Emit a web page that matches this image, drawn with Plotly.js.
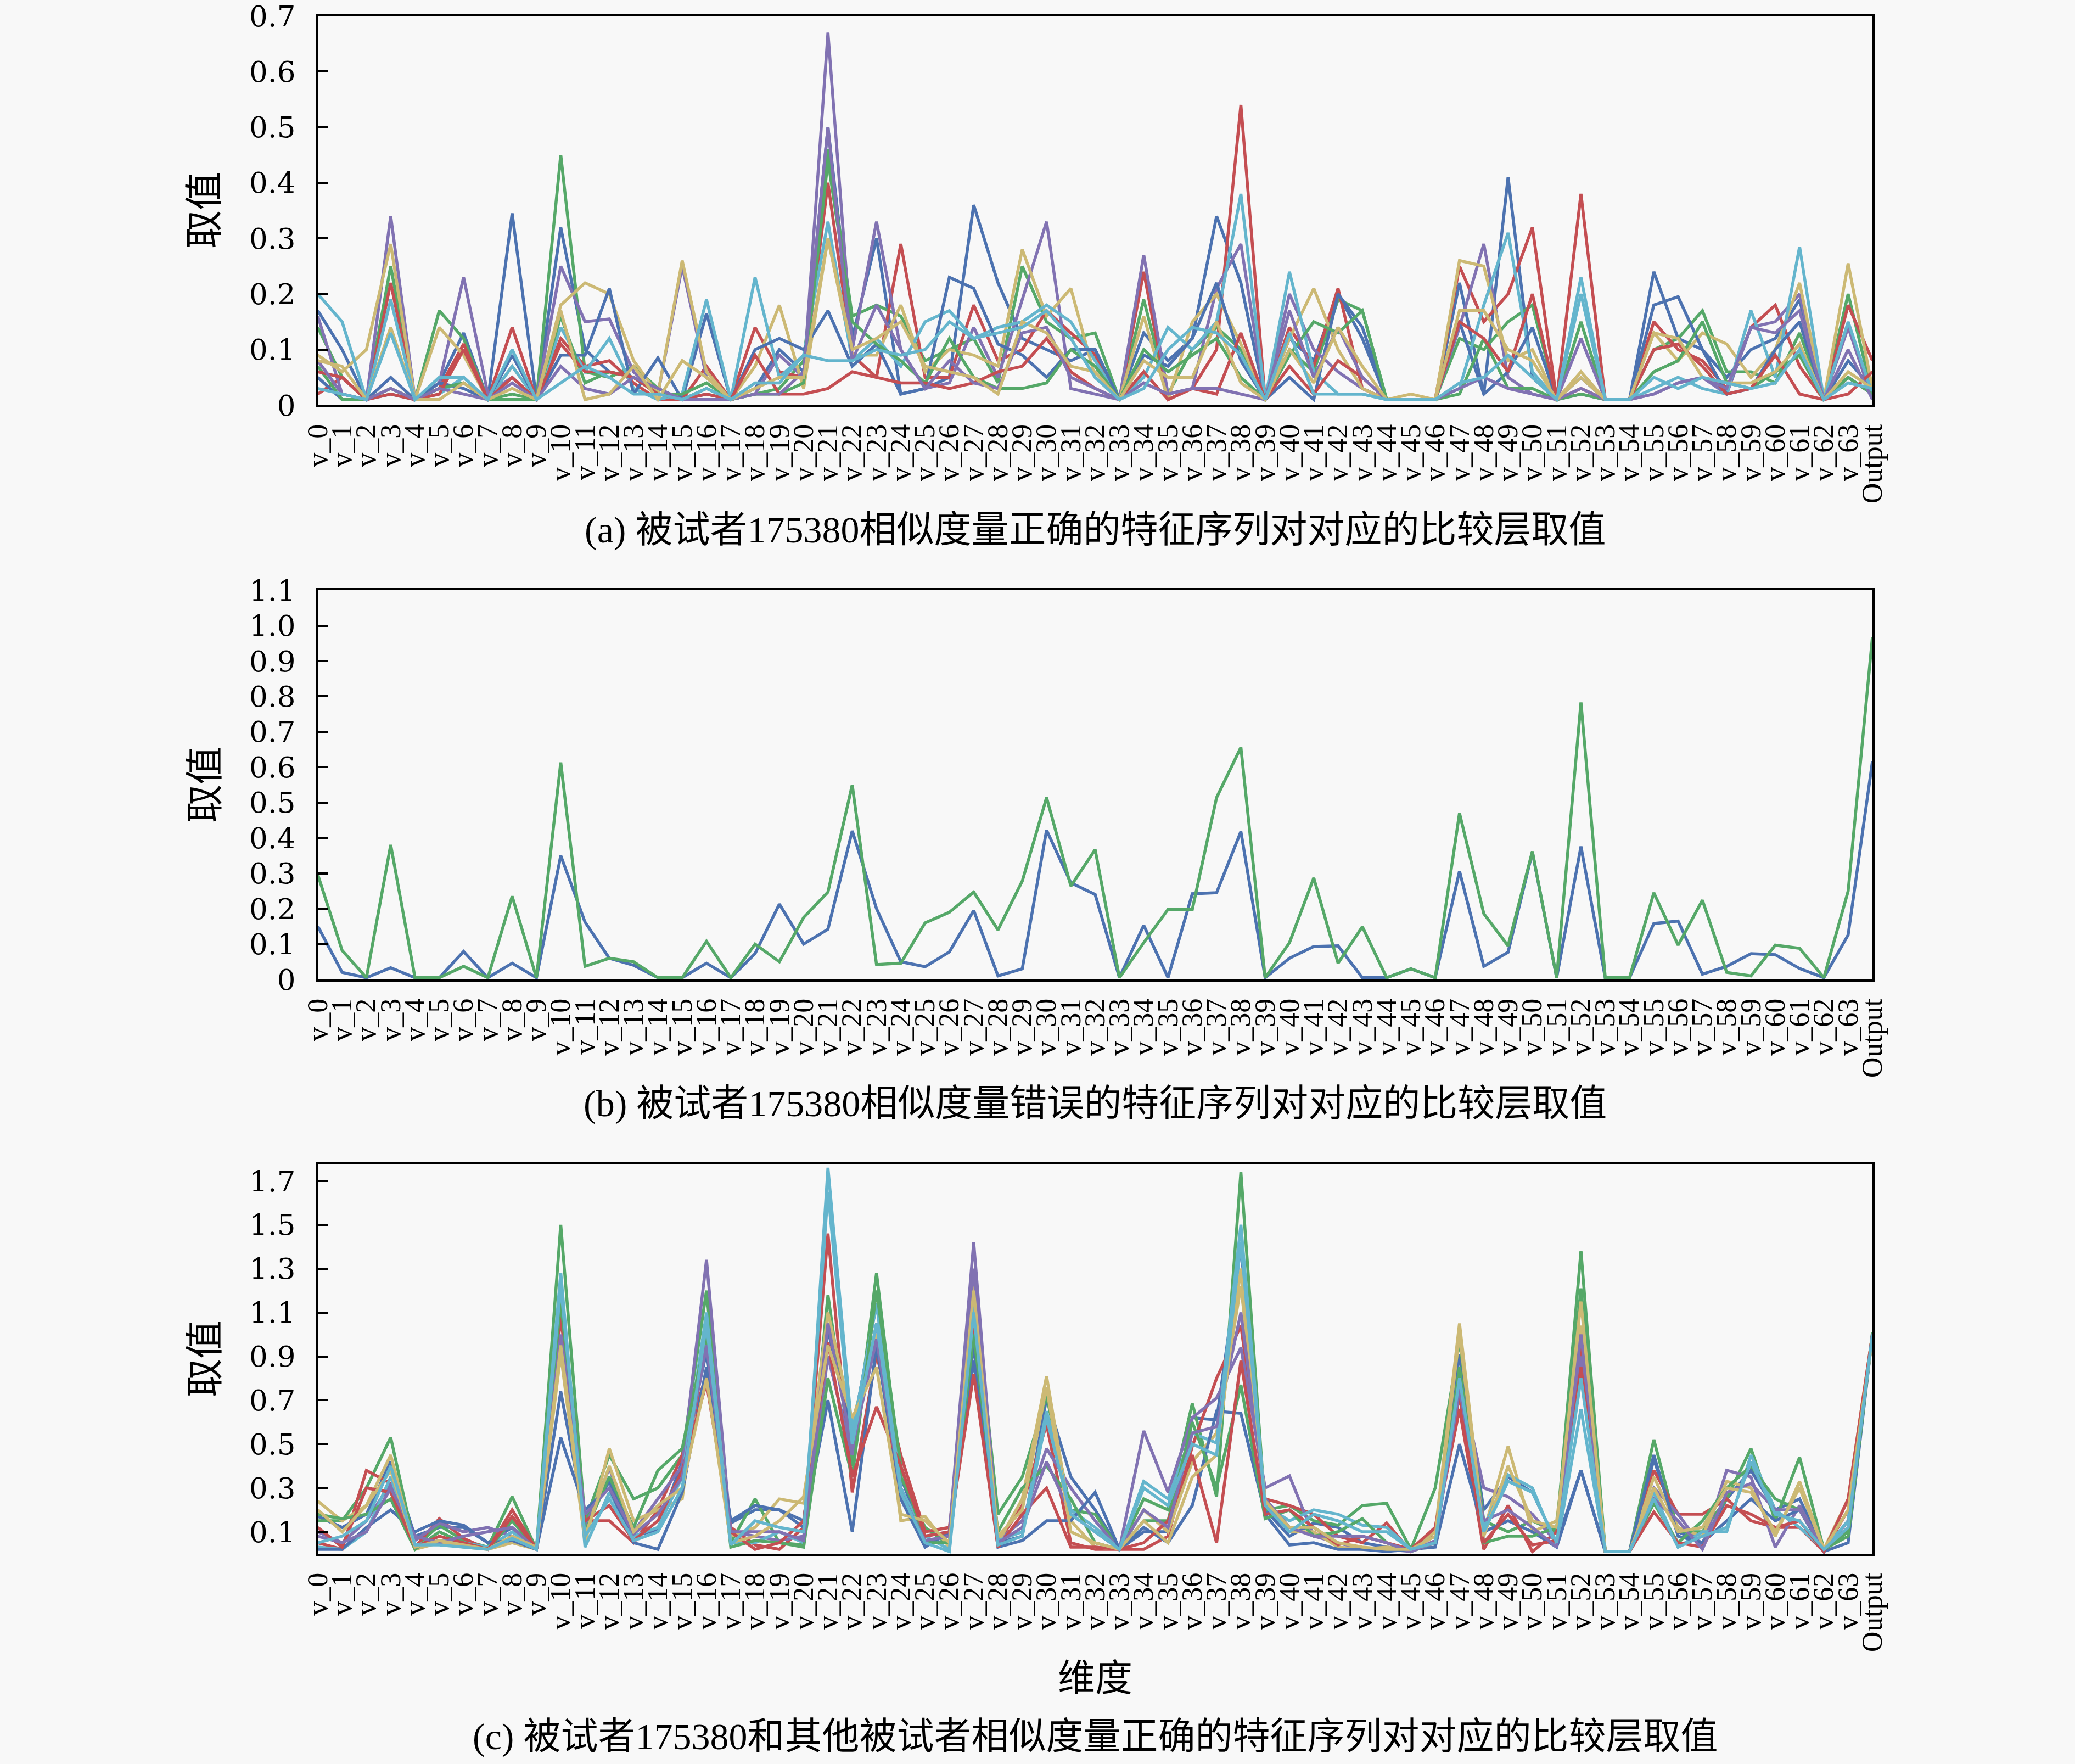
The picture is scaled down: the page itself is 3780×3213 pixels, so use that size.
<!DOCTYPE html>
<html>
<head>
<meta charset="utf-8">
<script src="https://cdn.plot.ly/plotly-3.0.1.min.js"></script>
<style>html,body{margin:0;padding:0;background:#f8f8f8;}#chart{width:3780px;height:3213px;}</style>
</head>
<body>
<div id="chart"></div>
<script>
const categories = ["v_0","v_1","v_2","v_3","v_4","v_5","v_6","v_7","v_8","v_9",
"v_10","v_11","v_12","v_13","v_14","v_15","v_16","v_17","v_18","v_19",
"v_20","v_21","v_22","v_23","v_24","v_25","v_26","v_27","v_28","v_29",
"v_30","v_31","v_32","v_33","v_34","v_35","v_36","v_37","v_38","v_39",
"v_40","v_41","v_42","v_43","v_44","v_45","v_46","v_47","v_48","v_49",
"v_50","v_51","v_52","v_53","v_54","v_55","v_56","v_57","v_58","v_59",
"v_60","v_61","v_62","v_63","Output"];

const palette = ["#4C72B0","#55A868","#C44E52","#8172B2","#CCB974","#64B5CD"];

// Panel (a): correct feature-sequence pairs
const a1 = [0.17,0.10,0.01,0.05,0.01,0.04,0.13,0.01,0.345,0.01, 0.32,0.10,0.06,0.05,0.03,0.01,0.165,0.01,0.03,0.10, 0.06,0.50,0.12,0.30,0.02,0.03,0.05,0.36,0.22,0.12, 0.10,0.08,0.10,0.01,0.13,0.08,0.12,0.34,0.22,0.01, 0.12,0.08,0.20,0.12,0.01,0.01,0.01,0.22,0.02,0.41, 0.05,0.01,0.05,0.01,0.01,0.24,0.12,0.10,0.05,0.10, 0.12,0.19,0.01,0.08,0.03];
const a2 = [0.14,0.05,0.01,0.25,0.01,0.17,0.12,0.01,0.02,0.01, 0.45,0.06,0.05,0.07,0.03,0.01,0.03,0.01,0.02,0.03, 0.08,0.46,0.16,0.18,0.16,0.08,0.10,0.12,0.04,0.25, 0.15,0.12,0.13,0.01,0.19,0.02,0.10,0.14,0.10,0.01, 0.10,0.06,0.19,0.17,0.01,0.01,0.01,0.12,0.10,0.15, 0.18,0.01,0.15,0.01,0.01,0.10,0.12,0.17,0.06,0.06, 0.04,0.13,0.01,0.20,0.02];
const a3 = [0.02,0.05,0.01,0.22,0.01,0.03,0.11,0.01,0.14,0.01, 0.12,0.07,0.08,0.04,0.01,0.01,0.07,0.01,0.14,0.06, 0.05,0.40,0.09,0.05,0.29,0.05,0.05,0.18,0.08,0.10, 0.17,0.13,0.09,0.01,0.24,0.01,0.03,0.10,0.54,0.01, 0.14,0.07,0.21,0.03,0.01,0.01,0.01,0.25,0.15,0.20, 0.32,0.01,0.38,0.01,0.01,0.15,0.10,0.08,0.03,0.14, 0.18,0.07,0.01,0.18,0.08];
const a4 = [0.16,0.02,0.01,0.34,0.01,0.04,0.23,0.02,0.05,0.01, 0.25,0.15,0.155,0.06,0.02,0.25,0.05,0.01,0.02,0.09, 0.05,0.67,0.10,0.33,0.10,0.03,0.04,0.14,0.05,0.19, 0.33,0.03,0.02,0.01,0.27,0.02,0.03,0.21,0.29,0.01, 0.20,0.10,0.06,0.03,0.01,0.01,0.01,0.14,0.29,0.05, 0.02,0.01,0.12,0.01,0.01,0.02,0.04,0.05,0.02,0.14, 0.15,0.20,0.01,0.14,0.01];
const a5 = [0.09,0.06,0.10,0.29,0.01,0.14,0.09,0.01,0.07,0.01, 0.18,0.22,0.20,0.08,0.02,0.26,0.06,0.01,0.07,0.18, 0.03,0.30,0.09,0.09,0.18,0.06,0.10,0.09,0.07,0.28, 0.16,0.21,0.05,0.01,0.16,0.01,0.15,0.20,0.11,0.01, 0.12,0.21,0.10,0.03,0.01,0.02,0.01,0.26,0.25,0.08, 0.10,0.01,0.06,0.01,0.01,0.13,0.08,0.13,0.11,0.05, 0.10,0.22,0.01,0.255,0.03];
const a6 = [0.20,0.15,0.01,0.19,0.01,0.02,0.05,0.01,0.07,0.01, 0.14,0.06,0.12,0.03,0.01,0.02,0.19,0.01,0.23,0.05, 0.09,0.33,0.08,0.12,0.07,0.15,0.17,0.12,0.14,0.15, 0.18,0.15,0.08,0.01,0.05,0.14,0.10,0.15,0.38,0.01, 0.24,0.06,0.02,0.02,0.01,0.01,0.01,0.03,0.18,0.31, 0.06,0.01,0.23,0.01,0.01,0.03,0.05,0.03,0.02,0.17, 0.05,0.285,0.01,0.15,0.02];
const a7 = [0.05,0.01,0.01,0.02,0.01,0.04,0.03,0.01,0.09,0.01, 0.09,0.09,0.21,0.02,0.085,0.01,0.02,0.01,0.10,0.12, 0.10,0.17,0.07,0.11,0.02,0.03,0.23,0.21,0.11,0.09, 0.05,0.10,0.10,0.01,0.09,0.07,0.12,0.22,0.08,0.01, 0.05,0.01,0.20,0.14,0.01,0.01,0.01,0.15,0.02,0.06, 0.14,0.01,0.02,0.01,0.01,0.18,0.195,0.10,0.02,0.03, 0.10,0.15,0.01,0.05,0.02];
const a8 = [0.07,0.01,0.01,0.03,0.01,0.03,0.04,0.01,0.01,0.01, 0.16,0.04,0.06,0.05,0.02,0.02,0.04,0.01,0.02,0.02, 0.04,0.44,0.15,0.11,0.08,0.04,0.12,0.05,0.03,0.03, 0.04,0.10,0.07,0.01,0.10,0.06,0.09,0.12,0.05,0.01, 0.09,0.15,0.13,0.17,0.01,0.01,0.01,0.02,0.12,0.03, 0.03,0.01,0.02,0.01,0.01,0.06,0.08,0.15,0.04,0.03, 0.06,0.09,0.01,0.05,0.02];
const a9 = [0.06,0.05,0.01,0.02,0.01,0.02,0.10,0.01,0.05,0.01, 0.11,0.06,0.06,0.05,0.02,0.01,0.02,0.01,0.09,0.02, 0.02,0.03,0.06,0.05,0.04,0.04,0.03,0.04,0.06,0.07, 0.12,0.06,0.03,0.01,0.06,0.01,0.03,0.02,0.13,0.01, 0.07,0.02,0.08,0.05,0.01,0.01,0.01,0.15,0.12,0.06, 0.20,0.01,0.03,0.01,0.01,0.10,0.11,0.07,0.02,0.03, 0.09,0.02,0.01,0.02,0.06];
const a10 = [0.08,0.02,0.01,0.03,0.01,0.03,0.02,0.01,0.04,0.01, 0.07,0.03,0.02,0.05,0.03,0.01,0.01,0.01,0.02,0.02, 0.06,0.50,0.08,0.18,0.10,0.03,0.08,0.04,0.03,0.13, 0.14,0.05,0.03,0.01,0.04,0.02,0.03,0.03,0.02,0.01, 0.17,0.05,0.14,0.05,0.01,0.01,0.01,0.03,0.05,0.03, 0.02,0.01,0.03,0.01,0.01,0.02,0.04,0.05,0.03,0.14, 0.13,0.17,0.01,0.10,0.01];
const a11 = [0.08,0.07,0.01,0.14,0.01,0.01,0.04,0.01,0.03,0.01, 0.17,0.01,0.02,0.07,0.01,0.08,0.05,0.01,0.03,0.05, 0.05,0.30,0.10,0.12,0.15,0.07,0.06,0.05,0.02,0.15, 0.13,0.07,0.06,0.01,0.08,0.05,0.05,0.15,0.04,0.01, 0.10,0.04,0.14,0.07,0.01,0.01,0.01,0.17,0.17,0.10, 0.08,0.01,0.05,0.01,0.01,0.13,0.12,0.05,0.04,0.04, 0.06,0.11,0.01,0.06,0.03];
const a12 = [0.03,0.02,0.01,0.13,0.01,0.05,0.05,0.01,0.10,0.01, 0.04,0.07,0.05,0.02,0.02,0.01,0.03,0.01,0.04,0.04, 0.09,0.08,0.08,0.10,0.09,0.10,0.15,0.12,0.13,0.14, 0.17,0.12,0.05,0.01,0.03,0.10,0.14,0.13,0.09,0.01, 0.13,0.02,0.02,0.02,0.01,0.01,0.01,0.04,0.05,0.09, 0.05,0.01,0.20,0.01,0.01,0.05,0.03,0.05,0.04,0.03, 0.04,0.10,0.01,0.04,0.03];

// Panel (b): wrong feature-sequence pairs
const b1 = [0.15,0.02,0.005,0.033,0.005,0.005,0.079,0.005,0.046,0.005, 0.35,0.162,0.06,0.04,0.005,0.005,0.046,0.005,0.073,0.213, 0.10,0.142,0.42,0.20,0.05,0.036,0.078,0.195,0.01,0.03, 0.422,0.273,0.24,0.005,0.153,0.005,0.242,0.245,0.418,0.005, 0.06,0.093,0.095,0.005,0.005,0.03,0.005,0.306,0.037,0.077, 0.36,0.005,0.376,0.005,0.005,0.158,0.165,0.015,0.037,0.073, 0.07,0.031,0.005,0.126,0.616];
const b2 = [0.296,0.082,0.005,0.38,0.005,0.005,0.037,0.005,0.235,0.005, 0.613,0.037,0.06,0.05,0.005,0.005,0.108,0.005,0.10,0.05, 0.175,0.247,0.55,0.042,0.046,0.16,0.19,0.247,0.14,0.278, 0.514,0.264,0.367,0.005,0.104,0.198,0.198,0.514,0.656,0.005, 0.104,0.287,0.046,0.149,0.005,0.03,0.005,0.47,0.186,0.095, 0.362,0.005,0.783,0.005,0.005,0.245,0.097,0.224,0.02,0.01, 0.097,0.088,0.005,0.25,0.968];

// Panel (c): correct pairs between subject 175380 and others
const c1 = [0.17,0.12,0.18,0.42,0.08,0.12,0.12,0.05,0.12,0.02, 0.74,0.15,0.33,0.08,0.11,0.42,0.92,0.14,0.20,0.20, 0.15,1.02,0.55,1.14,0.35,0.06,0.05,0.95,0.05,0.08, 0.71,0.35,0.20,0.02,0.10,0.10,0.62,0.61,1.40,0.20, 0.08,0.14,0.12,0.05,0.03,0.02,0.10,0.91,0.20,0.35, 0.28,0.05,0.38,0.01,0.01,0.43,0.10,0.05,0.25,0.38, 0.20,0.25,0.02,0.10,1.00];
const c2 = [0.15,0.15,0.30,0.53,0.03,0.13,0.06,0.03,0.26,0.02, 1.50,0.15,0.45,0.25,0.30,0.45,1.20,0.05,0.25,0.05, 0.04,1.18,0.40,1.28,0.35,0.12,0.04,1.25,0.18,0.35, 0.72,0.20,0.18,0.02,0.25,0.20,0.685,0.26,1.74,0.20, 0.22,0.15,0.13,0.22,0.23,0.02,0.30,0.97,0.15,0.10, 0.15,0.10,1.38,0.01,0.01,0.52,0.10,0.10,0.25,0.48, 0.15,0.44,0.02,0.10,1.01];
const c3 = [0.05,0.02,0.38,0.32,0.03,0.16,0.07,0.02,0.20,0.02, 1.08,0.15,0.15,0.05,0.20,0.45,0.82,0.12,0.04,0.02, 0.12,1.46,0.28,0.91,0.45,0.10,0.12,1.05,0.05,0.22, 0.59,0.05,0.02,0.02,0.02,0.08,0.49,0.80,1.04,0.25, 0.22,0.18,0.08,0.05,0.14,0.01,0.10,0.66,0.02,0.22, 0.01,0.10,0.94,0.01,0.01,0.38,0.18,0.18,0.25,0.15, 0.12,0.12,0.01,0.20,1.00];
const c4 = [0.10,0.05,0.15,0.32,0.06,0.14,0.10,0.12,0.08,0.02, 1.20,0.12,0.39,0.10,0.25,0.40,1.34,0.10,0.08,0.06, 0.08,0.90,0.45,1.05,0.30,0.08,0.10,1.42,0.06,0.15, 0.48,0.30,0.15,0.02,0.56,0.28,0.62,0.71,0.94,0.30, 0.355,0.08,0.05,0.02,0.02,0.01,0.06,0.80,0.30,0.26, 0.18,0.05,0.90,0.01,0.01,0.30,0.18,0.03,0.38,0.35, 0.03,0.22,0.01,0.15,0.99];
const c5 = [0.24,0.15,0.22,0.45,0.02,0.05,0.03,0.02,0.05,0.02, 0.91,0.05,0.48,0.15,0.20,0.25,1.05,0.08,0.12,0.25, 0.23,1.10,0.60,1.00,0.15,0.17,0.03,1.24,0.05,0.25, 0.81,0.15,0.03,0.02,0.20,0.10,0.42,0.55,1.22,0.25, 0.10,0.10,0.03,0.02,0.03,0.02,0.10,1.05,0.10,0.49, 0.10,0.15,1.04,0.01,0.01,0.35,0.12,0.08,0.33,0.30, 0.08,0.33,0.02,0.25,1.00];
const c6 = [0.03,0.02,0.10,0.35,0.04,0.06,0.05,0.03,0.10,0.02, 1.28,0.03,0.28,0.08,0.12,0.35,1.10,0.05,0.05,0.10, 0.05,1.76,0.55,1.14,0.30,0.08,0.02,1.15,0.06,0.10, 0.65,0.20,0.12,0.02,0.33,0.25,0.55,0.505,1.50,0.22, 0.15,0.20,0.18,0.13,0.12,0.02,0.08,0.79,0.12,0.36, 0.30,0.03,0.66,0.01,0.01,0.28,0.03,0.10,0.10,0.45, 0.20,0.12,0.02,0.15,1.00];
const c7 = [0.02,0.02,0.12,0.20,0.10,0.15,0.13,0.05,0.06,0.02, 0.53,0.20,0.30,0.05,0.02,0.28,0.85,0.15,0.22,0.20, 0.12,0.70,0.10,0.95,0.25,0.03,0.10,0.88,0.03,0.06, 0.15,0.15,0.28,0.02,0.12,0.05,0.22,0.65,0.64,0.18, 0.04,0.05,0.02,0.02,0.01,0.02,0.03,0.50,0.10,0.15, 0.10,0.03,0.38,0.01,0.01,0.45,0.08,0.05,0.15,0.25, 0.15,0.20,0.01,0.05,1.00];
const c8 = [0.18,0.16,0.18,0.25,0.02,0.10,0.05,0.02,0.15,0.02, 1.15,0.10,0.35,0.12,0.38,0.48,1.00,0.03,0.06,0.05, 0.03,0.80,0.35,1.20,0.40,0.05,0.05,1.00,0.10,0.30, 0.40,0.25,0.05,0.02,0.15,0.15,0.60,0.30,0.77,0.16, 0.20,0.08,0.10,0.16,0.05,0.01,0.05,0.85,0.05,0.08, 0.08,0.12,1.21,0.01,0.01,0.23,0.05,0.15,0.30,0.40, 0.25,0.20,0.02,0.08,1.00];
const c9 = [0.12,0.03,0.30,0.28,0.03,0.08,0.05,0.02,0.17,0.02, 0.98,0.15,0.22,0.06,0.15,0.38,0.78,0.10,0.02,0.05, 0.15,0.965,0.35,0.67,0.40,0.08,0.10,0.82,0.03,0.18, 0.30,0.03,0.03,0.02,0.05,0.15,0.45,0.05,0.88,0.18, 0.20,0.12,0.04,0.08,0.05,0.02,0.12,0.72,0.05,0.18, 0.04,0.06,0.85,0.01,0.01,0.19,0.05,0.03,0.22,0.18, 0.12,0.15,0.01,0.25,1.00];
const c10 = [0.08,0.05,0.10,0.30,0.08,0.05,0.08,0.10,0.12,0.02, 1.00,0.18,0.30,0.09,0.18,0.35,0.95,0.10,0.10,0.10, 0.06,1.05,0.48,0.98,0.28,0.06,0.08,1.30,0.05,0.12, 0.42,0.18,0.10,0.02,0.20,0.12,0.55,0.58,1.10,0.25, 0.12,0.08,0.08,0.08,0.05,0.01,0.05,0.75,0.15,0.20, 0.12,0.03,1.00,0.01,0.01,0.25,0.15,0.02,0.28,0.32, 0.20,0.20,0.02,0.12,1.00];
const c11 = [0.20,0.10,0.22,0.38,0.03,0.06,0.04,0.02,0.08,0.03, 0.95,0.08,0.40,0.10,0.22,0.30,0.80,0.05,0.08,0.15, 0.26,0.95,0.62,0.85,0.18,0.15,0.05,1.20,0.08,0.20, 0.76,0.10,0.05,0.02,0.15,0.05,0.35,0.45,1.30,0.24, 0.12,0.12,0.05,0.03,0.02,0.02,0.08,1.00,0.08,0.40, 0.15,0.12,1.15,0.01,0.01,0.30,0.10,0.12,0.30,0.28, 0.10,0.30,0.02,0.20,0.98];
const c12 = [0.05,0.08,0.15,0.40,0.04,0.04,0.03,0.02,0.07,0.02, 1.22,0.08,0.25,0.06,0.10,0.30,1.05,0.04,0.15,0.12, 0.10,1.65,0.50,1.05,0.28,0.05,0.01,1.10,0.04,0.08, 0.62,0.18,0.10,0.02,0.30,0.22,0.50,0.45,1.42,0.22, 0.10,0.18,0.15,0.10,0.10,0.02,0.05,0.80,0.10,0.33, 0.28,0.05,0.80,0.01,0.01,0.25,0.03,0.08,0.12,0.42, 0.18,0.15,0.02,0.12,1.00];

const seriesA = [a1,a2,a3,a4,a5,a6,a7,a8,a9,a10,a11,a12];
const seriesB = [b1,b2];
const seriesC = [c1,c2,c3,c4,c5,c6,c7,c8,c9,c10,c11,c12];

const titleA = "(a) 被试者175380相似度量正确的特征序列对对应的比较层取值";
const titleB = "(b) 被试者175380相似度量错误的特征序列对对应的比较层取值";
const titleC = "(c) 被试者175380和其他被试者相似度量正确的特征序列对对应的比较层取值";
const yLabel = "取值";
const xLabel = "维度";

const yTicksA = [0,0.1,0.2,0.3,0.4,0.5,0.6,0.7];
const yTextA = ["0","0.1","0.2","0.3","0.4","0.5","0.6","0.7"];
const yTicksB = [0,0.1,0.2,0.3,0.4,0.5,0.6,0.7,0.8,0.9,1.0,1.1];
const yTextB = ["0","0.1","0.2","0.3","0.4","0.5","0.6","0.7","0.8","0.9","1.0","1.1"];
const yTicksC = [0.1,0.3,0.5,0.7,0.9,1.1,1.3,1.5,1.7];
const yTextC = ["0.1","0.3","0.5","0.7","0.9","1.1","1.3","1.5","1.7"];

const FONT = "'Liberation Serif', 'DejaVu Serif', 'Noto Sans CJK SC', serif";
const TICKFONT = "'DejaVu Serif', 'Liberation Serif', serif";
const traces = [];
function addSeries(list, xa, ya) {
  list.forEach((vals, i) => {
    traces.push({
      type: "scatter", mode: "lines", x: categories, y: vals,
      xaxis: xa, yaxis: ya, showlegend: false, hoverinfo: "skip",
      line: {color: palette[i % palette.length], width: 5.5}
    });
  });
}
addSeries(seriesA, "x", "y");
addSeries(seriesB, "x2", "y2");
addSeries(seriesC, "x3", "y3");

const xDom = [579/3780, 3411/3780];
function xAxis(anchor) {
  return {
    domain: xDom, anchor: anchor, type: "category", range: [0, 64],
    tickmode: "array", tickvals: categories, ticktext: categories,
    tickangle: -90, ticks: "", showgrid: false, zeroline: false,
    showline: true, mirror: true, linecolor: "#000", linewidth: 4,
    ticklabelstandoff: 10,
    tickfont: {family: FONT, size: 52, color: "#000"}, automargin: false
  };
}
function yAxis(anchor, dom, rng, tv, tt) {
  return {
    domain: dom, anchor: anchor, range: rng, tickvals: tv, ticktext: tt,
    ticks: "inside", ticklen: 18, tickwidth: 4, tickcolor: "#000",
    showgrid: false, zeroline: false, showline: true, mirror: true,
    linecolor: "#000", linewidth: 4, ticklabelstandoff: 26,
    ticklabeloverflow: "allow",
    tickfont: {family: TICKFONT, size: 53, color: "#000"}, automargin: false
  };
}
function yDom(top, bottom) { return [1 - bottom/3213, 1 - top/3213]; }

const ann = [];
function addText(text, x, y, size, angle) {
  ann.push({text: text, x: x, y: y, xref: "paper", yref: "paper", showarrow: false,
    xanchor: "center", yanchor: "middle", textangle: angle || 0,
    font: {family: FONT, size: size, color: "#000"}});
}
const cx = (579 + 3411) / 2 / 3780;
addText(titleA, cx, 1 - 965/3213, 68);
addText(titleB, cx, 1 - 2010/3213, 68);
addText(titleC, cx, 1 - 3163/3213, 68);
addText(xLabel, cx, 1 - 3057/3213, 68);
addText(yLabel, 374/3780, 1 - 383/3213, 70, -90);
addText(yLabel, 374/3780, 1 - 1429/3213, 70, -90);
addText(yLabel, 374/3780, 1 - 2475/3213, 70, -90);

const layout = {
  width: 3780, height: 3213,
  margin: {l: 0, r: 0, t: 0, b: 0},
  paper_bgcolor: "#f8f8f8", plot_bgcolor: "#f8f8f8",
  font: {family: FONT, color: "#000"},
  showlegend: false,
  xaxis: xAxis("y"),
  xaxis2: xAxis("y2"),
  xaxis3: xAxis("y3"),
  yaxis: yAxis("x", yDom(29, 738), [0, 0.7001], yTicksA, yTextA),
  yaxis2: yAxis("x2", yDom(1075, 1784), [0, 1.1001], yTicksB, yTextB),
  yaxis3: yAxis("x3", yDom(2121, 2830), [0, 1.775], yTicksC, yTextC),
  annotations: ann
};

Plotly.newPlot("chart", traces, layout, {staticPlot: true, displayModeBar: false});
</script>
</body>
</html>
